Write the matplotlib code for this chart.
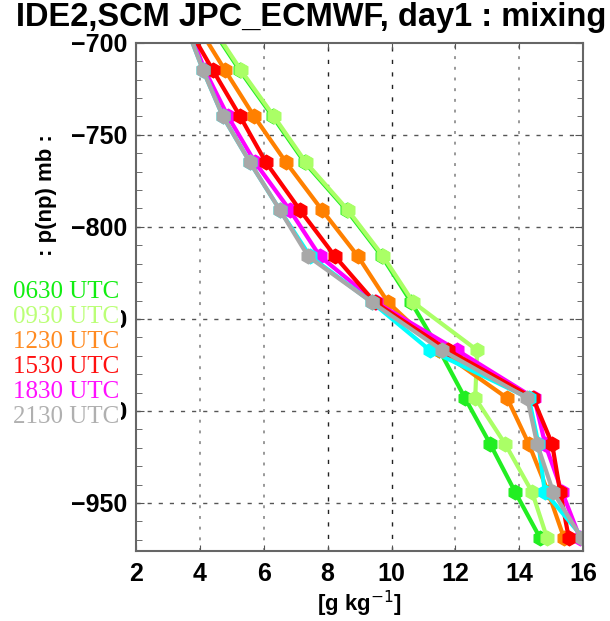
import numpy as np
import matplotlib
matplotlib.use('Agg')
import matplotlib.pyplot as plt
from matplotlib.patches import Rectangle

# pressure levels (mb, negative up)
levels = [-690, -715, -740, -765, -791, -816, -841, -867, -893, -918, -944, -969]

# mixing ratio [g/kg] per time
q_0630 = [4.30, 5.25, 6.28, 7.28, 8.60, 9.70, 10.62, 11.50, 12.30, 13.09, 13.87, 14.65]
q_0930 = [4.34, 5.29, 6.32, 7.32, 8.64, 9.74, 10.68, 12.68, 12.62, 13.56, 14.40, 14.87]
q_1230 = [3.90, 4.79, 5.70, 6.70, 7.83, 8.95, 9.89, 11.50, 13.62, 14.30, 14.90, 15.40]
q_1530 = [3.58, 4.41, 5.26, 6.07, 7.14, 8.23, 9.48, 11.77, 14.43, 15.03, 15.28, 15.55]
q_1830 = [3.60, 4.16, 4.88, 5.73, 6.82, 7.76, 9.52, 12.05, 14.47, 14.81, 15.34, 15.90]
q_2130 = [3.55, 4.10, 4.72, 5.57, 6.51, 7.39, 9.39, 11.58, 14.25, 14.56, 15.06, 15.95]
q_cyan = [3.55, 4.10, 4.72, 5.57, 6.51, 7.45, 9.39, 11.20, 14.30, 14.60, 14.80, 16.00]

labels = ['0630 UTC', '0930 UTC', '1230 UTC', '1530 UTC', '1830 UTC', '2130 UTC']
series = [q_0630, q_0930, q_1230, q_1530, q_1830, q_2130]
colors = ['#22ee22', '#aaff66', '#ff8000', '#ff0000', '#ff00ff', '#a8a8a8']
txt_colors = ['#11ee11', '#bbff77', '#ff8a20', '#ff1010', '#ff10ff', '#b0b0b0']

fig = plt.figure(figsize=(6.10, 6.21), dpi=100)
ax = fig.add_axes([0.223, 0.113, 0.733, 0.818])

# grid: dark dashed at 8 and 10, grey dotted elsewhere
for xv in [4, 6, 12, 14]:
    ax.axvline(xv, color='#999999', ls=(0, (1.5, 4)), lw=1.4, zorder=0)
for xv in [8, 10]:
    ax.axvline(xv, color='#222222', ls=(0, (3, 6)), lw=1.0, zorder=0)
for yv in [-750, -800, -850, -900, -950]:
    ax.axhline(yv, color='#555555', ls=(0, (3, 5)), lw=1.0, zorder=0)

order = [0, 1, 2, 4, 3]
for i in order:
    ax.plot(series[i], levels, color=colors[i], lw=3, marker='h', ms=10.5, mec=colors[i])
ax.plot(q_cyan, levels, color='#00ffff', lw=3, marker='h', ms=10.5)
ax.plot(series[5], levels, color=colors[5], lw=3, marker='h', ms=10.5)

ax.set_xlim(2, 16)
ax.set_ylim(-976, -700)
ax.set_xticks(np.arange(2, 17, 2))
ax.set_yticks([-700, -750, -800, -850, -900, -950])
ax.set_yticks(np.arange(-970, -700, 10), minor=True)
ax.set_yticklabels(['\u2212700', '\u2212750', '\u2212800', '\u2212850', '\u2212900', '\u2212950'])
ax.tick_params(axis='both', which='both', direction='in', top=True, right=True,
               labelsize=18, color='#555555')
ax.tick_params(axis='y', which='major', length=6, pad=6)
ax.tick_params(axis='y', which='minor', length=4)
ax.tick_params(axis='x', length=4, pad=8)
for lab in ax.get_xticklabels() + ax.get_yticklabels():
    lab.set_fontfamily('Liberation Sans')
    lab.set_fontweight('bold')
for sp in ax.spines.values():
    sp.set_color('#666666')
    sp.set_linewidth(1.5)

ax.set_xlabel('[g kg$^{-1}$]', fontsize=16, fontfamily='Liberation Sans',
              fontweight='bold', labelpad=2)
fig.text(0.077, 0.686, ': p(np) mb :', rotation=90, ha='center', va='center',
         fontsize=16, fontfamily='Liberation Sans', fontweight='bold')

fig.text(0.51, 0.972, 'IDE2,SCM JPC_ECMWF, day1 : mixing', ha='center', va='center',
         fontsize=23.5, fontfamily='Liberation Sans', fontweight='bold')

# white block behind the time labels, hiding the tick labels under it
fig.patches.append(Rectangle((0, 0.30), 0.198, 0.25, transform=fig.transFigure,
                             facecolor='white', edgecolor='none', zorder=1))
for k, (lab, c) in enumerate(zip(labels, txt_colors)):
    fig.text(0.196, 1 - (292 + 25 * k) / 621, lab, color=c, ha='right', va='center',
             fontsize=18, fontfamily='Liberation Serif', zorder=3)

fig.savefig('out.png', dpi=100)
